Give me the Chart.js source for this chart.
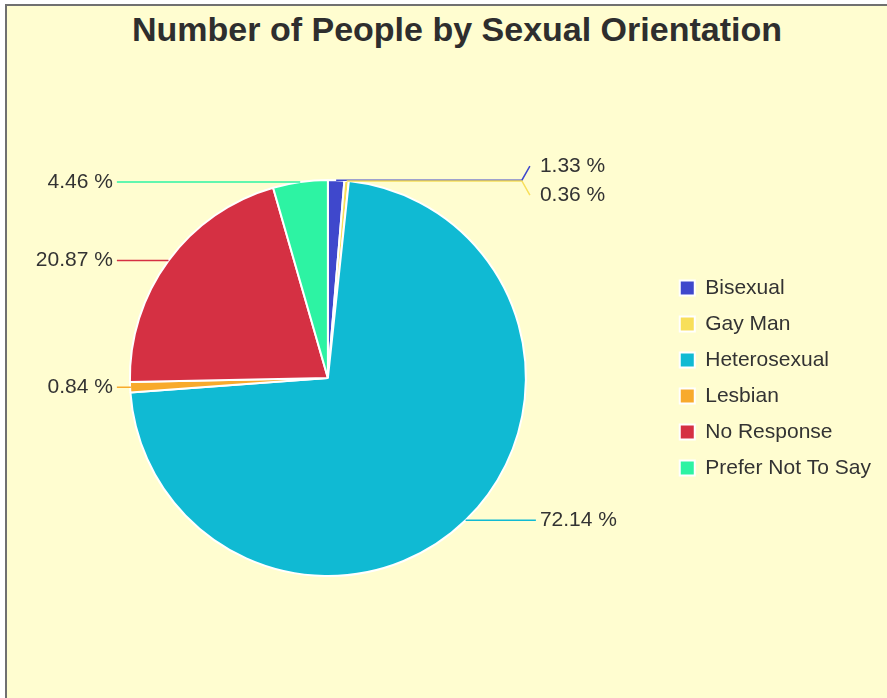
<!DOCTYPE html>
<html lang="en">
<head>
    <title>Number of People by Sexual Orientation</title>
    <script src="https://cdn.jsdelivr.net/npm/chart.js"></script>
    <style>
        body { margin: 0; background: #fff; overflow: hidden; }
        #frame {
            position: absolute; left: 5px; top: 4px; width: 900px; height: 710px;
            background: #FFFDD0; border-left: 2px solid #707070; border-top: 2px solid #707070;
        }
        #title {
            position: absolute; left: 0; top: 12px; width: 914px; text-align: center;
            font: bold 34px "Liberation Sans", Arial, sans-serif; line-height: 34px; color: #2e2e2e;
        }
        #wrap { position: absolute; left: -9px; top: 0; width: 896px; height: 698px; }
    </style>
</head>
<body>
    <div id="frame"></div>
    <div id="title">Number of People by Sexual Orientation</div>
    <div id="wrap"><canvas id="pieChart"></canvas></div>

    <script>
        // data (percent of people)
        const categories = ['Bisexual', 'Gay Man', 'Heterosexual', 'Lesbian', 'No Response', 'Prefer Not To Say'];
        const percents = [1.33, 0.36, 72.14, 0.84, 20.87, 4.46];
        const colors = ['#3f48cc', '#f8df5a', '#10bad3', '#f8aa2c', '#d53043', '#2df3a3'];

        // labels outside the pie with leader lines
        const outsideLabels = {
            id: 'outsideLabels',
            afterDatasetsDraw(chart) {
                const ctx = chart.ctx;
                const arcs = chart.getDatasetMeta(0).data;
                const gap = 29;
                let items = arcs.map((arc, i) => {
                    const mid = (arc.startAngle + arc.endAngle) / 2;
                    const ax = arc.x + Math.cos(mid) * arc.outerRadius;
                    const ay = arc.y + Math.sin(mid) * arc.outerRadius;
                    return { i, cx: arc.x, ax, ay, ly: ay, dir: Math.cos(mid) >= 0 ? 1 : -1 };
                });

                // push apart labels that are too close on the same side
                [1, -1].forEach(dir => {
                    const side = items.filter(it => it.dir === dir).sort((a, b) => a.ay - b.ay);
                    for (let pass = 0; pass < 10; pass++) {
                        let clusters = [];
                        side.forEach(it => {
                            const last = clusters[clusters.length - 1];
                            if (last && it.ly - last[last.length - 1].ly < gap) last.push(it);
                            else clusters.push([it]);
                        });
                        let moved = false;
                        clusters.forEach(c => {
                            if (c.length < 2) return;
                            const mean = c.reduce((s, it) => s + it.ay, 0) / c.length;
                            c.forEach((it, k) => {
                                it.ly = mean + (k - (c.length - 1) / 2) * gap;
                            });
                            moved = true;
                        });
                        if (!moved) break;
                    }
                });

                ctx.save();
                ctx.lineWidth = 1.5;
                ctx.font = '21px "Liberation Sans", Arial, sans-serif';
                ctx.textBaseline = 'middle';
                items.forEach(it => {
                    // label columns sit at a fixed distance left / right of the pie centre
                    const colX = it.dir > 0 ? it.cx + 194 : it.cx - 197;
                    ctx.strokeStyle = colors[it.i];
                    ctx.beginPath();
                    ctx.moveTo(it.ax, it.ay);
                    ctx.lineTo(colX, it.ay);
                    if (Math.abs(it.ly - it.ay) < 1) ctx.lineTo(colX + it.dir * 14, it.ay);
                    else ctx.lineTo(colX + it.dir * 8, it.ly);
                    ctx.stroke();

                    ctx.fillStyle = '#333';
                    ctx.textAlign = it.dir > 0 ? 'left' : 'right';
                    ctx.fillText(percents[it.i].toFixed(2) + ' %', colX + it.dir * 18, it.ly);
                });
                ctx.restore();
            }
        };

        const ctx = document.getElementById('pieChart').getContext('2d');
        new Chart(ctx, {
            type: 'pie',
            data: {
                labels: categories,
                datasets: [{
                    data: percents,
                    backgroundColor: colors,
                    borderColor: '#ffffff',
                    borderWidth: 2,
                    hoverOffset: 0
                }]
            },
            options: {
                responsive: true,
                maintainAspectRatio: false,
                animation: false,
                layout: { padding: { top: 179, bottom: 121, left: 0, right: 6 } },
                plugins: {
                    tooltip: { enabled: false },
                    legend: {
                        position: 'right',
                        labels: {
                            boxWidth: 15,
                            boxHeight: 15,
                            padding: 15,
                            color: '#333',
                            font: { family: '"Liberation Sans", Arial, sans-serif', size: 21 }
                        }
                    }
                }
            },
            plugins: [outsideLabels]
        });
    </script>
</body>
</html>
